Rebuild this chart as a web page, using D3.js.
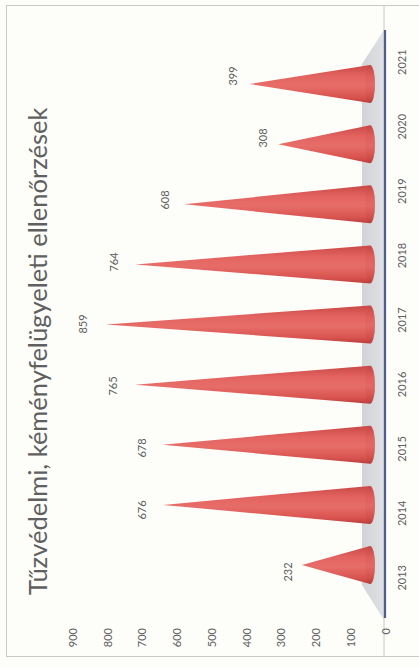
<!DOCTYPE html>
<html>
<head>
<meta charset="utf-8">
<script src="https://cdn.jsdelivr.net/npm/d3@7"></script>
<style>
  html, body { margin: 0; padding: 0; background: #fdfdfa; }
  svg { display: block; }
</style>
</head>
<body>
<svg id="chart" width="419" height="668"></svg>
<script>
// ---- data ----
const title = "Tűzvédelmi, kéményfelügyeleti ellenőrzések";
const years = ["2013", "2014", "2015", "2016", "2017", "2018", "2019", "2020", "2021"];
const values = [232, 676, 678, 765, 859, 764, 608, 308, 399];
const valueTicks = [0, 100, 200, 300, 400, 500, 600, 700, 800, 900];

const svg = d3.select("#chart");
const textColor = "#606060";
const fontFam = "Lato, 'Open Sans', 'Liberation Sans', sans-serif";

// chart is drawn rotated: values run right-to-left, categories bottom-to-top
// front plane (axis) scales
const xAxisScale = d3.scaleLinear().domain([0, 900]).range([385, 72.5]);
const yBand = d3.scaleBand().domain(years).range([610, 30]);
// back (cone) plane scales - perspective
const xCone = d3.scaleLinear().domain([0, 900]).range([374.5, 93]);
const yCone = d3.scalePoint().domain(years).range([565, 84]);
// data-label placement scales
const xLabel = d3.scaleLinear().domain([0, 900]).range([362.9, 68.6]);
const yLabel = d3.scalePoint().domain(years).range([572, 76]);

// outer border
svg.append("rect").attr("x", 6.5).attr("y", 5.5).attr("width", 420).attr("height", 651)
  .attr("fill", "none").attr("stroke", "#c9c9c9").attr("stroke-width", 1);

const defs = svg.append("defs");

// floor
const fx = xAxisScale(0) - 1;
const backX = 362;
const floorPts = [
  [fx, yBand.range()[1]],
  [backX, yCone.range()[1] - 20],
  [backX, yCone.range()[0] + 20],
  [fx, yBand.range()[0] + 10]
];
const floorGrad = defs.append("linearGradient").attr("id", "floorG")
  .attr("x1", 0).attr("x2", 1).attr("y1", 0).attr("y2", 0);
floorGrad.append("stop").attr("offset", "0%").attr("stop-color", "#d2d3d6");
floorGrad.append("stop").attr("offset", "100%").attr("stop-color", "#dfe0e3");
svg.append("polygon").attr("points", floorPts.map(p => p.join(",")).join(" "))
  .attr("fill", "url(#floorG)");

// faint vertical line (floor edge)
svg.append("line").attr("x1", fx).attr("x2", fx).attr("y1", 6).attr("y2", 656)
  .attr("stroke", "#c8c8c8").attr("stroke-width", 1);

// cone gradient
const cg = defs.append("linearGradient").attr("id", "coneG")
  .attr("x1", 0).attr("x2", 0).attr("y1", 0).attr("y2", 1);
[["0%", "#c94846"], ["30%", "#e36461"], ["55%", "#e76d69"], ["85%", "#d8534f"], ["100%", "#ba3f3c"]]
  .forEach(s => cg.append("stop").attr("offset", s[0]).attr("stop-color", s[1]));
const bg = defs.append("linearGradient").attr("id", "baseG")
  .attr("x1", 0).attr("x2", 0).attr("y1", 0).attr("y2", 1);
[["0%", "#c4423f"], ["50%", "#dc5c58"], ["100%", "#b43835"]]
  .forEach(s => bg.append("stop").attr("offset", s[0]).attr("stop-color", s[1]));

const halfW = 19, baseCx = 370, baseRx = 5;
const cones = svg.append("g");
years.forEach((yr, i) => {
  const yc = yCone(yr);
  const tip = xCone(values[i]);
  cones.append("path")
    .attr("d", `M${tip},${yc} L${baseCx},${yc - halfW} A${baseRx},${halfW} 0 0 1 ${baseCx},${yc + halfW} Z`)
    .attr("fill", "url(#coneG)");
  cones.append("ellipse").attr("cx", baseCx).attr("cy", yc).attr("rx", baseRx).attr("ry", halfW)
    .attr("fill", "url(#baseG)").attr("opacity", 0.3);
});

// category axis line
svg.append("line").attr("x1", fx + 1).attr("x2", fx + 1)
  .attr("y1", yBand.range()[1]).attr("y2", yBand.range()[0] + 8)
  .attr("stroke", "#4e5f8f").attr("stroke-width", 2.2);

// year labels
svg.append("g").selectAll("text").data(years).join("text")
  .attr("transform", d => `translate(401,${yBand(d) + yBand.bandwidth() / 2}) rotate(-90)`)
  .attr("text-anchor", "middle").attr("dominant-baseline", "central")
  .attr("font-family", fontFam).attr("font-size", 11).attr("fill", textColor)
  .text(d => d);

// value axis labels
svg.append("g").selectAll("text").data(valueTicks).join("text")
  .attr("transform", d => `translate(${xAxisScale(d)},628) rotate(-90)`)
  .attr("text-anchor", "end").attr("dominant-baseline", "central")
  .attr("font-family", fontFam).attr("font-size", 11).attr("fill", textColor)
  .text(d => d);

// data labels
svg.append("g").selectAll("text").data(years).join("text")
  .attr("transform", (d, i) => `translate(${xLabel(values[i])},${yLabel(d)}) rotate(-90)`)
  .attr("text-anchor", "middle").attr("dominant-baseline", "central")
  .attr("font-family", fontFam).attr("font-size", 11).attr("fill", textColor)
  .text((d, i) => values[i]);

// title
const t = svg.append("text")
  .attr("transform", "translate(47,595) rotate(-90)")
  .attr("text-anchor", "start")
  .attr("font-family", fontFam).attr("font-size", 24).attr("fill", "#606060")
  .text(title);
const targetLen = 488;
const len = t.node().getComputedTextLength();
t.attr("font-size", 24 * targetLen / len);
</script>
</body>
</html>
